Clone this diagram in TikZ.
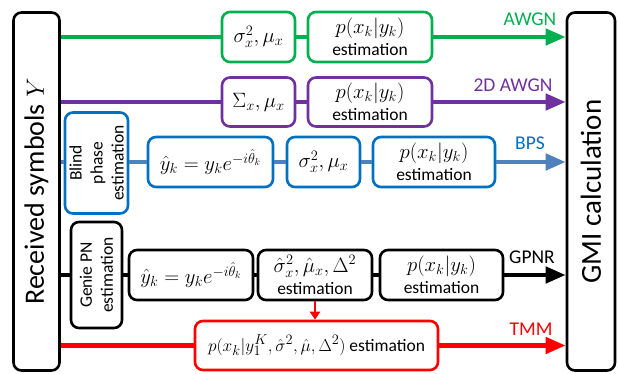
\documentclass[tikz,border=0pt]{standalone}
\usepackage{fontspec}
\setmainfont{Carlito}
\usetikzlibrary{arrows.meta}
\definecolor{cgreen}{HTML}{00B050}
\definecolor{cpurple}{HTML}{7030A0}
\definecolor{cblue}{HTML}{0070C0}
\definecolor{clblue}{HTML}{4F81BD}
\definecolor{cred}{HTML}{FF0000}
\newcommand{\mth}[1]{{\fontsize{20}{22}\selectfont$#1$}}
\newcommand{\mthb}[1]{{\fontsize{22}{24}\selectfont$#1$}}
\begin{document}
\begin{tikzpicture}[x=1pt,y=-1pt,
  box/.style={draw, line width=2.6pt, rounded corners=8pt, fill=white, align=center,
    inner sep=0pt, font=\fontsize{17.5}{22}\selectfont},
  rtext/.style={rotate=90, align=center, inner sep=0pt, font=\fontsize{17.5}{21}\selectfont},
  conn/.style={line width=4.5pt},
  arr/.style={line width=4.5pt, -{Triangle[length=20pt,width=16pt]}},
  lab/.style={font=\fontsize{19.5}{22}\selectfont, inner sep=0pt}
]
\useasboundingbox (0,0) rectangle (618,374);

% side boxes
\node[box, minimum width=46pt, minimum height=358pt] (L) at (36.5,191.5) {};
\node[rtext, font=\fontsize{28}{30}\selectfont] (Lt) at (L.center) {Received symbols $Y$};
\node[box, minimum width=48pt, minimum height=358pt] (R) at (591,191.5) {};
\node[rtext, font=\fontsize{29}{30}\selectfont] (Rt) at (R.center) {GMI calculation};

% AWGN row
\node[box, draw=cgreen, minimum width=73pt, minimum height=50pt] (s1) at (258.5,37) {\mthb{\sigma_x^2,\mu_x}};
\node[box, draw=cgreen, minimum width=124pt, minimum height=50pt] (p1) at (370,37) {\mth{p(x_k|y_k)}\\estimation};
\draw[conn, cgreen] (L.east |- s1.west) -- (s1.west);
\draw[conn, cgreen] (s1.east) -- (p1.west);
\draw[arr, cgreen] (p1.east) -- (R.west |- p1.east);
\node[lab, text=cgreen] (l1) at (530,19) {AWGN};

% 2D AWGN row
\node[box, draw=cpurple, minimum width=73pt, minimum height=49pt] (s2) at (258.5,102) {\mth{\Sigma_x,\mu_x}};
\node[box, draw=cpurple, minimum width=124pt, minimum height=49pt] (p2) at (370,102) {\mth{p(x_k|y_k)}\\estimation};
\draw[conn, cpurple] (L.east |- s2.west) -- (s2.west);
\draw[conn, cpurple] (s2.east) -- (p2.west);
\draw[arr, cpurple] (p2.east) -- (R.west |- p2.east);
\node[lab, text=cpurple] (l2) at (513,85) {2D AWGN};

% BPS row
\node[box, draw=cblue, minimum width=63pt, minimum height=101pt] (b3) at (96.5,163) {};
\node[rtext] (b3t) at (b3.center) {Blind\\phase\\estimation};
\node[box, draw=cblue, minimum width=125pt, minimum height=50pt] (y3) at (210.5,162) {\mth{\hat{y}_k=y_ke^{-i\hat{\theta}_k}}};
\node[box, draw=cblue, minimum width=73pt, minimum height=50pt] (s3) at (323.5,162) {\mthb{\sigma_x^2,\mu_x}};
\node[box, draw=cblue, minimum width=122pt, minimum height=50pt] (p3) at (434,162) {\mth{p(x_k|y_k)}\\estimation};
\draw[conn, clblue] (L.east |- y3.west) -- (b3.west |- y3.west);
\draw[conn, clblue] (b3.east |- y3.west) -- (y3.west);
\draw[conn, clblue] (y3.east) -- (s3.west);
\draw[conn, clblue] (s3.east) -- (p3.west);
\draw[arr, clblue] (p3.east) -- (R.west |- p3.east);
\node[lab, text=cblue] (l3) at (530,143) {BPS};

% GPNR row
\node[box, minimum width=51pt, minimum height=106pt] (g4) at (96.5,275) {};
\node[rtext] (g4t) at (g4.center) {Genie PN\\estimation};
\node[box, minimum width=124pt, minimum height=50pt] (y4) at (191,275) {\mth{\hat{y}_k=y_ke^{-i\hat{\theta}_k}}};
\node[box, minimum width=114pt, minimum height=50pt] (s4) at (315,275) {\mth{\hat{\sigma}_x^2,\hat{\mu}_x,\Delta^2}\\estimation};
\node[box, minimum width=123pt, minimum height=50pt] (p4) at (441.5,275) {\mth{p(x_k|y_k)}\\estimation};
\draw[conn] (L.east |- g4.west) -- (g4.west);
\draw[conn] (g4.east) -- (y4.west);
\draw[conn] (y4.east) -- (s4.west);
\draw[conn] (s4.east) -- (p4.west);
\draw[arr] (p4.east) -- (R.west |- p4.east);
\node[lab] (l4) at (532,257) {GPNR};

% TMM row
\node[box, draw=cred, minimum width=243pt, minimum height=49pt] (t5) at (316.5,345.5)
  {{\fontsize{19}{21}\selectfont$p(x_k\big|y_1^K,\hat{\sigma}^2,\hat{\mu},\Delta^2)$} estimation};
\draw[conn, cred] (L.east |- t5.west) -- (t5.west);
\draw[arr, cred] (t5.east) -- (R.west |- t5.east);
\draw[line width=2.6pt, cred, -{Triangle[length=8pt,width=10pt]}] (s4.south) -- (t5.north -| s4.south);
\node[lab, text=cred] (l5) at (531,329) {TMM};
\end{tikzpicture}
\end{document}
